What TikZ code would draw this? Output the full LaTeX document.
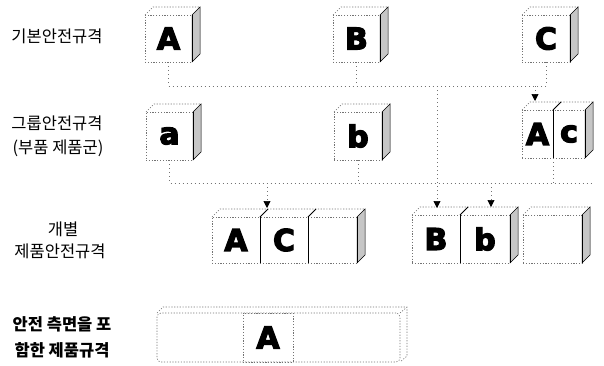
\documentclass[tikz,border=0pt]{standalone}
\usepackage{fontspec}
\newfontfamily\kr{Noto Sans CJK KR}
\newfontfamily\blk{DejaVu Sans Bold}[FakeBold=4]
\usetikzlibrary{arrows.meta,calc}
\newcommand\mkcube[3][8]{%
  \draw[edge] (#2.north west) -- ++(#1,-#1) -- ($(#3.north east)+(#1,-#1)$);
  \draw[sideface] (#3.north east) -- ++(#1,-#1) -- ($(#3.south east)+(#1,-#1)$) -- (#3.south east) -- cycle;
  \draw[solidedge] (#3.north east) -- (#3.south east);
}
\newcommand\mkdiv[2][8]{%
  \draw[solidedge] (#2.north east) -- (#2.south east);
  \draw[solidedge] (#2.north east) -- ++(#1,-#1);
}
\begin{document}
\begin{tikzpicture}[x=1pt,y=-1pt,
  face/.style={inner sep=0pt, outer sep=0pt, draw=black!55, dash pattern=on 1.2pt off 1.6pt, line width=0.6pt,
    font=\blk\fontsize{30}{30}\selectfont},
  edge/.style={draw=black!55, dash pattern=on 1.2pt off 1.6pt, line width=0.6pt},
  sideface/.style={fill=gray!45, draw=black, line width=0.5pt},
  solidedge/.style={draw=black, line width=0.9pt},
  conn/.style={draw=black!55, dash pattern=on 1pt off 3pt, line width=0.7pt},
  arr/.style={conn, -{Triangle[length=7pt,width=7pt,color=black]}},
  lab/.style={font=\kr\fontsize{16.5}{16.5}\selectfont, inner sep=0pt},
  labb/.style={font=\kr\bfseries\fontsize{16.5}{16.5}\selectfont, inner sep=0pt}]
\useasboundingbox (0,0) rectangle (604,365);

% labels
\node[lab] (l1) at (57,36) {기본안전규격};
\node[lab] (l2) at (57,123) {그룹안전규격};
\node[lab] (l3) at (58,148) {(부품 제품군)};
\node[lab] (l4) at (63,229) {개별};
\node[lab] (l5) at (60,251) {제품안전규격};
\node[labb] (l6) at (62,324) {안전 측면을 포};
\node[labb] (l7) at (62,350) {함한 제품규격};

% row 1
\node[face, minimum width=47pt, minimum height=47pt] (A) at (168.5,38.5) {A};
\node[face, minimum width=47pt, minimum height=47pt] (B) at (356.5,38.5) {B};
\node[face, minimum width=48pt, minimum height=47pt] (C) at (546,38.5) {C};
\mkcube{A}{A}
\mkcube{B}{B}
\mkcube{C}{C}

% row 2
\node[face, minimum width=47pt, minimum height=48pt] (a) at (169.5,136) {a};
\node[face, minimum width=48pt, minimum height=48pt] (b) at (358,136) {b};
\node[face, minimum width=31pt, minimum height=48pt] (Ac1) at (537.5,134) {A};
\node[face, minimum width=32pt, minimum height=48pt] (Ac2) at (569,134) {c};
\mkcube{a}{a}
\mkcube{b}{b}
\mkcube{Ac1}{Ac2}
\mkdiv{Ac1}

% row 3
\node[face, minimum width=48pt, minimum height=46pt] (P1) at (236,240) {A};
\node[face, minimum width=48pt, minimum height=46pt] (P2) at (284,240) {C};
\node[face, minimum width=49pt, minimum height=46pt] (P3) at (332.5,240) {};
\mkcube{P1}{P3}
\mkdiv{P1}
\mkdiv{P2}

\node[face, minimum width=48pt, minimum height=48pt] (Q1) at (436,239) {B};
\node[face, minimum width=50pt, minimum height=48pt] (Q2) at (485,239) {b};
\node[face, minimum width=59pt, minimum height=48pt] (Q3) at (552.5,239) {};
\mkcube{Q1}{Q2}
\mkdiv{Q1}
\mkcube{Q3}{Q3}

% row 4
\node[face, rounded corners=4pt, minimum width=243pt, minimum height=49pt] (R) at (278.5,337.5) {};
\node[face, minimum width=50pt, minimum height=49pt] (RA) at (268,337.5) {A};
\draw[edge] (R.north west) -- ++(6,-6) -- ($(R.north east)+(7,-6)$) -- ++(0,49) -- (R.south east);
\draw[edge] (R.north east) -- ++(7,-6);

% connectors
\coordinate (j1) at (437,86);
\coordinate (j4) at (592,183);
\coordinate (j2) at (267,183);
\coordinate (j3) at (491,183);
\coordinate (tAc) at (535,86);
\draw[conn] (A.south) |- (j1);
\draw[conn] (B.south) -- (B.south |- j1);
\draw[conn] (C.south) |- (j1);
\draw[arr, shorten >=7pt] (j1) -- (j1 |- Q1.north);
\draw[arr, shorten >=9pt] (tAc) -- (tAc |- Ac1.north);
\draw[conn] (a.south) |- (j4);
\draw[conn] (b.south) -- (b.south |- j4);
\draw[conn] (Ac1.south east) -- (Ac1.south east |- j4);
\draw[arr, shorten >=9pt] (j2) -- (j2 |- P1.north);
\draw[arr, shorten >=8pt] (j3) -- (j3 |- Q2.north);
\end{tikzpicture}
\end{document}
